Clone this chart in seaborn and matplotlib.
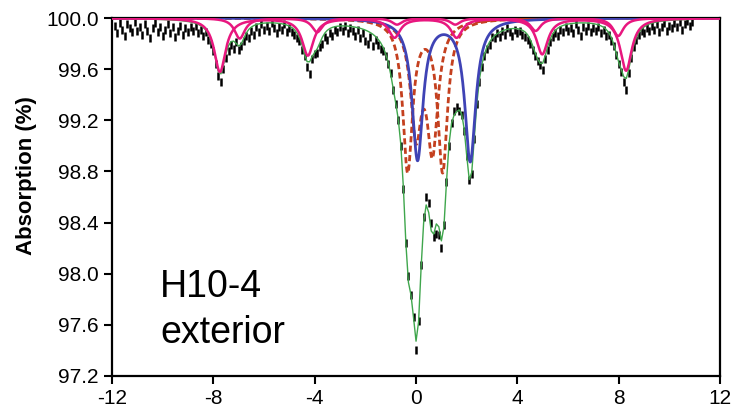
import numpy as np
import pandas as pd
import matplotlib
matplotlib.use("Agg")
import matplotlib.pyplot as plt
import seaborn as sns

sns.set_theme(style="ticks")
plt.rcParams['font.family'] = ['Liberation Sans', 'DejaVu Sans']
plt.rcParams['axes.unicode_minus'] = False

# Measured spectrum: channel velocities (mm/s) and absorption (%)
velocity = np.round(np.arange(229) * 0.1 - 11.9, 3)
measured = [
    99.94, 99.88, 99.96, 99.91, 99.86, 99.95, 99.92, 99.89, 99.97, 99.90,
    99.93, 99.87, 99.95, 99.90, 99.84, 99.92, 99.96, 99.89, 99.93, 99.86,
    99.91, 99.95, 99.88, 99.93, 99.85, 99.90, 99.94, 99.87, 99.92, 99.89,
    99.93, 99.90, 99.94, 99.88, 99.91, 99.86, 99.89, 99.83, 99.80, 99.74,
    99.64, 99.55, 99.50, 99.60, 99.69, 99.74, 99.79, 99.76, 99.81, 99.75,
    99.78, 99.82, 99.86, 99.84, 99.90, 99.87, 99.93, 99.89, 99.95, 99.91,
    99.94, 99.90, 99.96, 99.92, 99.88, 99.93, 99.91, 99.95, 99.89, 99.92,
    99.89, 99.87, 99.84, 99.82, 99.75, 99.70, 99.62, 99.56, 99.68, 99.72,
    99.73, 99.77, 99.80, 99.85, 99.83, 99.88, 99.86, 99.91, 99.89, 99.93,
    99.90, 99.94, 99.88, 99.92, 99.90, 99.86, 99.91, 99.84, 99.88, 99.82,
    99.80, 99.85, 99.78, 99.83, 99.79, 99.76, 99.74, 99.70, 99.64, 99.57,
    99.44, 99.33, 99.20, 99.00, 98.66, 98.24, 97.98, 97.83, 97.66, 97.40,
    97.63, 98.07, 98.44, 98.60, 98.55, 98.40, 98.29, 98.31, 98.30, 98.20,
    98.38, 98.72, 99.00, 99.18, 99.27, 99.30, 99.27, 99.24, 99.12, 98.92,
    98.73, 98.78, 99.05, 99.33, 99.50, 99.62, 99.70, 99.76, 99.79, 99.85,
    99.84, 99.88, 99.85, 99.90, 99.87, 99.92, 99.89, 99.86, 99.91, 99.88,
    99.90, 99.87, 99.85, 99.83, 99.80, 99.75, 99.70, 99.66, 99.63, 99.59,
    99.68, 99.75, 99.81, 99.85, 99.88, 99.86, 99.91, 99.89, 99.93, 99.90,
    99.92, 99.88, 99.95, 99.91, 99.86, 99.93, 99.90, 99.94, 99.89, 99.92,
    99.90, 99.93, 99.88, 99.91, 99.86, 99.87, 99.82, 99.78, 99.71, 99.64,
    99.58, 99.50, 99.44, 99.57, 99.69, 99.77, 99.83, 99.87, 99.90, 99.88,
    99.92, 99.90, 99.94, 99.91, 99.95, 99.89, 99.93, 99.96, 99.90, 99.94,
    99.92, 99.96, 99.93, 99.97, 99.91, 99.95, 99.98, 99.94, 99.97,
]

# Fitted sub-spectra: line positions (mm/s), depths (%), linewidth (mm/s)
sextet1_pos = [-7.74, -4.27, -0.85, 1.60, 4.98, 8.29]
sextet1_depth = [0.42, 0.29, 0.15, 0.15, 0.28, 0.41]
sextet1_width = 0.55

sextet2_pos = [-6.96, -3.90, -0.75, 1.55, 4.72, 7.98]
sextet2_depth = [0.16, 0.11, 0.05, 0.05, 0.10, 0.14]
sextet2_width = 0.50

doublet_blue_pos = [0.06, 2.14]
doublet_blue_depth = [1.10, 1.11]
doublet_blue_width = 0.52

doublet_red1_pos = [-0.33, 1.05]
doublet_red1_depth = [1.18, 1.18]
doublet_red1_width = 0.47

doublet_red2_pos = [0.00, 0.65]
doublet_red2_depth = [0.85, 0.98]
doublet_red2_width = 0.52

subspectra = {
    "s1": (sextet1_pos, sextet1_depth, sextet1_width),
    "s2": (sextet2_pos, sextet2_depth, sextet2_width),
    "blue": (doublet_blue_pos, doublet_blue_depth, doublet_blue_width),
    "r1": (doublet_red1_pos, doublet_red1_depth, doublet_red1_width),
    "r2": (doublet_red2_pos, doublet_red2_depth, doublet_red2_width),
}


def absorption(v, pos, depth, width):
    """Sum of Lorentzian lines below the 100 % baseline."""
    a = np.zeros_like(v, dtype=float)
    for p, d in zip(pos, depth):
        a += d / (1.0 + (2.0 * (v - p) / width) ** 2)
    return a


vel = np.linspace(-12, 12, 2000)
comps = {k: 100 - absorption(vel, *prm) for k, prm in subspectra.items()}
envelope = 100 - sum(absorption(velocity, *prm) for prm in subspectra.values())

fig = plt.figure(figsize=(7.37, 4.11), dpi=100)
ax = fig.add_axes([0.152, 0.0852, 0.825, 0.871])

# measured points as short vertical dashes
sns.scatterplot(x=velocity, y=measured, ax=ax, marker="|", s=28,
                color="black", linewidth=1.8, zorder=2)
# total fit
sns.lineplot(x=velocity, y=envelope, ax=ax, color="#3FA64C", lw=1.0, zorder=3)
# sub-spectra
for key in ("r1", "r2"):
    sns.lineplot(x=vel, y=comps[key], ax=ax, color="#C4401F", lw=2.0,
                 linestyle=(0, (2.2, 1.2)), zorder=4)
sns.lineplot(x=vel, y=comps["blue"], ax=ax, color="#3F43B5", lw=2.0, zorder=5)
for key in ("s1", "s2"):
    sns.lineplot(x=vel, y=comps[key], ax=ax, color="#E8177F", lw=1.8, zorder=6)

ax.set_xlim(-12, 12)
ax.set_ylim(97.2, 100.0)
ax.set_xticks([-12, -8, -4, 0, 4, 8, 12])
ax.set_yticks(np.arange(97.2, 100.01, 0.4))
ax.yaxis.set_major_formatter(matplotlib.ticker.FormatStrFormatter('%.1f'))
ax.tick_params(direction='out', length=6, width=1.5, labelsize=15,
               colors='black', labelcolor='black')
for s in ax.spines.values():
    s.set_linewidth(1.6)
    s.set_color('black')
ax.set_xlabel("")
ax.set_ylabel("Absorption (%)", fontsize=16, fontweight='bold', color='black')
ax.yaxis.set_label_coords(-0.123, 0.56)
ax.text(-10.1, 97.82, "H10-4", fontsize=27, va='baseline', ha='left', color='black')
ax.text(-10.1, 97.46, "exterior", fontsize=27, va='baseline', ha='left', color='black')

fig.savefig("out.png", dpi=100)
